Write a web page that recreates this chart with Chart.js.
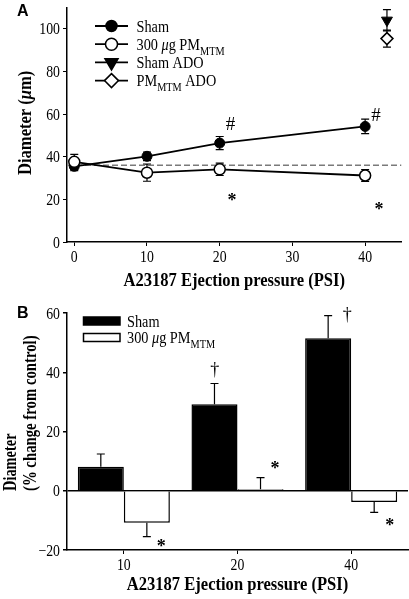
<!DOCTYPE html>
<html>
<head>
<meta charset="utf-8">
<script src="https://cdn.jsdelivr.net/npm/chart.js@4.4.1/dist/chart.umd.min.js"></script>
<style>
  html, body { margin: 0; padding: 0; background: #fff; }
  #chartA { position: absolute; left: 0; top: 0; }
  #chartB { position: absolute; left: 0; top: 296px; }
</style>
</head>
<body>
<canvas id="chartA" width="409" height="296"></canvas>
<canvas id="chartB" width="409" height="303"></canvas>
<script>
// Panel A: diameter vs ejection pressure
const pressures = [0, 10, 20, 40];
const shamDiam = [35.5, 40.2, 46.4, 54.2];
const shamErr = [2, 2, 3.1, 3.4];
const pmDiam = [37.6, 32.5, 34.1, 31.2];
const pmErr = [3.5, 4, 2.9, 2.8];
const adoX = [43];
const shamAdo = [104];
const shamAdoErr = [5];
const pmAdo = [95.4];
const pmAdoErr = [4];
const controlLevel = 36;
const xTicksA = [0, 10, 20, 30, 40];
const yTicksA = [0, 20, 40, 60, 80, 100];

// Panel B: % change from control
const pressureCats = ['10', '20', '40'];
const shamChange = [8.1, 29.2, 51.5];
const shamChangeErr = [4.3, 7, 7.6];
const pmChange = [-10.8, 0.5, -3.8];
const pmChangeErr = [4.7, 3.9, 3.5];
const yTicksB = [-20, 0, 20, 40, 60];

const SERIF = '"Liberation Serif", "Times New Roman", serif';
const SANS = '"Liberation Sans", Arial, sans-serif';

// text is a list of segments: 'n' normal, 'i' italic, 's' subscript
// sx squeezes the text horizontally (the original figure is a bit narrow)
function setFont(ctx, k, size, bold) {
  const fs = k === 's' ? size * 0.72 : size;
  ctx.font = (k === 'i' ? 'italic ' : '') + (bold ? 'bold ' : '') + fs + 'px ' + SERIF;
}
function richWidth(ctx, segs, size, bold, sx) {
  let w = 0;
  segs.forEach(([t, k]) => {
    setFont(ctx, k, size, bold);
    w += ctx.measureText(t).width;
  });
  return w * sx;
}
function richText(ctx, segs, x, y, size, bold, sx, align) {
  const w = richWidth(ctx, segs, size, bold, sx);
  const x0 = align === 'center' ? x - w / 2 : align === 'right' ? x - w : x;
  ctx.save();
  ctx.translate(x0, y);
  ctx.scale(sx, 1);
  ctx.textAlign = 'left';
  ctx.textBaseline = 'alphabetic';
  let cx = 0;
  segs.forEach(([t, k]) => {
    setFont(ctx, k, size, bold);
    ctx.fillText(t, cx, k === 's' ? size * 0.3 : 0);
    cx += ctx.measureText(t).width;
  });
  ctx.restore();
}
function label(v) {
  return String(v).replace('-', '\u2212');
}

function marker(ctx, style, x, y, r, filled) {
  ctx.beginPath();
  if (style === 'circle') {
    ctx.arc(x, y, r, 0, Math.PI * 2);
  } else if (style === 'down') {
    ctx.moveTo(x - r * 0.87, y - r * 0.5);
    ctx.lineTo(x + r * 0.87, y - r * 0.5);
    ctx.lineTo(x, y + r);
    ctx.closePath();
  } else {
    ctx.moveTo(x, y - r);
    ctx.lineTo(x + r, y);
    ctx.lineTo(x, y + r);
    ctx.lineTo(x - r, y);
    ctx.closePath();
  }
  ctx.fillStyle = filled ? '#000' : '#fff';
  ctx.fill();
  ctx.lineWidth = 1.5;
  ctx.strokeStyle = '#000';
  ctx.stroke();
}

function errBar(ctx, x, y1, y2, cap) {
  ctx.beginPath();
  ctx.moveTo(x, y1);
  ctx.lineTo(x, y2);
  ctx.moveTo(x - cap, y2);
  ctx.lineTo(x + cap, y2);
  ctx.stroke();
}

function symbol(ctx, t, x, y) {
  ctx.textAlign = 'center';
  ctx.textBaseline = 'alphabetic';
  if (t === '*') {
    ctx.font = 'bold 18px ' + SERIF;
    ctx.fillText(t, x, y + 10);
  } else if (t === '#') {
    ctx.font = '19px ' + SERIF;
    ctx.fillText(t, x, y + 6.5);
  } else {
    ctx.font = '18px ' + SERIF;
    ctx.fillText(t, x, y + 6);
  }
}

function drawTickLabels(chart, xLabels) {
  const ctx = chart.ctx;
  const xs = chart.scales.x, ys = chart.scales.y;
  const area = chart.chartArea;
  ctx.fillStyle = '#000';
  ys.ticks.forEach(t => {
    richText(ctx, [[label(t.value), 'n']], area.left - 7, ys.getPixelForValue(t.value) + 5.5, 16, false, 0.86, 'right');
  });
  xs.ticks.forEach((t, i) => {
    const px = xLabels ? xs.getPixelForValue(i) : xs.getPixelForValue(t.value);
    const txt = xLabels ? xLabels[i] : label(t.value);
    richText(ctx, [[txt, 'n']], px, area.bottom + 20, 16, false, 0.86, 'center');
  });
}

function axisStyle() {
  return {
    border: { display: true, color: '#000', width: 1.5 },
    grid: { display: true, drawOnChartArea: false, drawTicks: true, tickLength: 4, tickColor: '#000', tickWidth: 1 },
    ticks: { display: false }
  };
}

const xTitle = [['A23187 Ejection pressure (PSI)', 'n']];

// ---------- Panel A ----------
const errA = [shamErr, pmErr, shamAdoErr, pmAdoErr];
const annotA = [
  { x: 21.5, y: 55.5, t: '#' },
  { x: 41.5, y: 60, t: '#' },
  { x: 21.7, y: 21.5, t: '*' },
  { x: 41.9, y: 17.5, t: '*' }
];
const legendA = [
  { segs: [['Sham', 'n']], style: 'circle', filled: true, r: 5.5 },
  { segs: [['300 ', 'n'], ['\u03bc', 'i'], ['g PM', 'n'], ['MTM', 's']], style: 'circle', filled: false, r: 6 },
  { segs: [['Sham ADO', 'n']], style: 'down', filled: true, r: 7.5 },
  { segs: [['PM', 'n'], ['MTM', 's'], [' ADO', 'n']], style: 'diamond', filled: false, r: 7 }
];

const decorA = {
  id: 'decorA',
  beforeDatasetsDraw(chart) {
    const ctx = chart.ctx;
    const xs = chart.scales.x, ys = chart.scales.y;
    ctx.save();
    ctx.strokeStyle = '#000';
    ctx.lineWidth = 1.2;
    [0, 1, 2, 3].forEach(di => {
      chart.data.datasets[di].data.forEach((p, i) => {
        const px = xs.getPixelForValue(p.x);
        const e = errA[di][i];
        errBar(ctx, px, ys.getPixelForValue(p.y), ys.getPixelForValue(p.y + e), 4);
        errBar(ctx, px, ys.getPixelForValue(p.y), ys.getPixelForValue(p.y - e), 4);
      });
    });
    ctx.restore();
  },
  afterDraw(chart) {
    const ctx = chart.ctx;
    const xs = chart.scales.x, ys = chart.scales.y;
    const area = chart.chartArea;
    ctx.save();
    ctx.fillStyle = '#000';
    drawTickLabels(chart, null);
    annotA.forEach(a => symbol(ctx, a.t, xs.getPixelForValue(a.x), ys.getPixelForValue(a.y)));
    // legend
    legendA.forEach((l, i) => {
      const y = 26 + i * 18.2;
      ctx.strokeStyle = '#000';
      ctx.lineWidth = 1.8;
      ctx.beginPath();
      ctx.moveTo(95, y);
      ctx.lineTo(128, y);
      ctx.stroke();
      marker(ctx, l.style, 111.5, y, l.r, l.filled);
      ctx.fillStyle = '#000';
      richText(ctx, l.segs, 136.5, y + 5.5, 17, false, 0.84, 'left');
    });
    // axis titles
    richText(ctx, xTitle, (area.left + area.right) / 2, 286, 18, true, 0.92, 'center');
    ctx.translate(30.5, 175);
    ctx.rotate(-Math.PI / 2);
    richText(ctx, [['Diameter (', 'n'], ['\u03bc', 'i'], ['m)', 'n']], 0, 0, 18, true, 0.92, 'left');
    ctx.setTransform(1, 0, 0, 1, 0, 0);
    ctx.font = 'bold 16px ' + SANS;
    ctx.textAlign = 'left';
    ctx.textBaseline = 'alphabetic';
    ctx.fillText('A', 17, 16);
    ctx.restore();
  }
};

new Chart(document.getElementById('chartA'), {
  type: 'scatter',
  data: {
    datasets: [
      {
        data: pressures.map((p, i) => ({ x: p, y: shamDiam[i] })),
        showLine: true, borderColor: '#000', borderWidth: 1.8,
        pointStyle: 'circle', pointRadius: 5, pointBackgroundColor: '#000',
        pointBorderColor: '#000', pointBorderWidth: 1, order: 2
      },
      {
        data: pressures.map((p, i) => ({ x: p, y: pmDiam[i] })),
        showLine: true, borderColor: '#000', borderWidth: 1.8,
        pointStyle: 'circle', pointRadius: 5.5, pointBackgroundColor: '#fff',
        pointBorderColor: '#000', pointBorderWidth: 1.5, order: 1
      },
      {
        data: adoX.map((p, i) => ({ x: p, y: shamAdo[i] })),
        pointStyle: 'triangle', rotation: 180, pointRadius: 6.3,
        pointBackgroundColor: '#000', pointBorderColor: '#000', pointBorderWidth: 1, order: 1
      },
      {
        data: adoX.map((p, i) => ({ x: p, y: pmAdo[i] })),
        pointStyle: 'rectRot', pointRadius: 6, pointBackgroundColor: '#fff',
        pointBorderColor: '#000', pointBorderWidth: 1.5, order: 1
      },
      {
        data: [{ x: -1, y: controlLevel }, { x: 45, y: controlLevel }],
        showLine: true, borderColor: '#7a7a7a', borderWidth: 1.5, borderDash: [6, 3],
        pointRadius: 0, order: 3
      }
    ]
  },
  options: {
    responsive: false,
    animation: false,
    layout: { padding: { top: 4, right: 2, left: 0, bottom: 0 } },
    plugins: { legend: { display: false }, tooltip: { enabled: false } },
    scales: {
      x: Object.assign(axisStyle(), {
        type: 'linear', min: -1, max: 45,
        afterBuildTicks: s => { s.ticks = xTicksA.map(v => ({ value: v })); },
        afterFit: s => { s.height = 54; }
      }),
      y: Object.assign(axisStyle(), {
        type: 'linear', min: 0, max: 110,
        afterBuildTicks: s => { s.ticks = yTicksA.map(v => ({ value: v })); },
        afterFit: s => { s.width = 67; }
      })
    }
  },
  plugins: [decorA]
});

// ---------- Panel B ----------
const annotB = [
  { i: 1, dx: -0.2, y: 41, t: '\u2020' },
  { i: 2, dx: -0.035, y: 59.5, t: '\u2020' },
  { i: 0, dx: 0.33, y: -17.4, t: '*' },
  { i: 1, dx: 0.33, y: 8.9, t: '*' },
  { i: 2, dx: 0.34, y: -10.1, t: '*' }
];
const errB = [shamChangeErr, pmChangeErr];

const decorB = {
  id: 'decorB',
  afterDatasetsDraw(chart) {
    const ctx = chart.ctx;
    const ys = chart.scales.y;
    ctx.save();
    ctx.strokeStyle = '#000';
    ctx.lineWidth = 1.2;
    [0, 1].forEach(di => {
      const meta = chart.getDatasetMeta(di);
      chart.data.datasets[di].data.forEach((v, i) => {
        const e = v >= 0 ? errB[di][i] : -errB[di][i];
        errBar(ctx, meta.data[i].x, ys.getPixelForValue(v), ys.getPixelForValue(v + e), 4);
      });
    });
    ctx.restore();
  },
  afterDraw(chart) {
    const ctx = chart.ctx;
    const xs = chart.scales.x, ys = chart.scales.y;
    const area = chart.chartArea;
    const catW = (area.right - area.left) / pressureCats.length;
    ctx.save();
    ctx.fillStyle = '#000';
    drawTickLabels(chart, pressureCats);
    annotB.forEach(a => symbol(ctx, a.t, xs.getPixelForValue(a.i) + a.dx * catW, ys.getPixelForValue(a.y)));
    // legend
    const rows = [
      { segs: [['Sham', 'n']], fill: '#000' },
      { segs: [['300 ', 'n'], ['\u03bc', 'i'], ['g PM', 'n'], ['MTM', 's']], fill: '#fff' }
    ];
    rows.forEach((r, i) => {
      const y = 25 + i * 16.5;
      ctx.fillStyle = r.fill;
      ctx.fillRect(83.5, y - 4, 36.5, 8);
      ctx.strokeStyle = '#000';
      ctx.lineWidth = 1.5;
      ctx.strokeRect(83.5, y - 4, 36.5, 8);
      ctx.fillStyle = '#000';
      richText(ctx, r.segs, 127, y + 5.5, 17, false, 0.84, 'left');
    });
    // axis titles
    richText(ctx, xTitle, (area.left + area.right) / 2, 294, 18, true, 0.92, 'center');
    ctx.translate(15.5, 195);
    ctx.rotate(-Math.PI / 2);
    richText(ctx, [['Diameter', 'n']], 0, 0, 18, true, 0.8, 'left');
    ctx.setTransform(1, 0, 0, 1, 0, 0);
    ctx.translate(35.5, 195);
    ctx.rotate(-Math.PI / 2);
    richText(ctx, [['(% change from control)', 'n']], 0, 0, 18, true, 0.82, 'left');
    ctx.setTransform(1, 0, 0, 1, 0, 0);
    ctx.font = 'bold 16px ' + SANS;
    ctx.textAlign = 'left';
    ctx.textBaseline = 'alphabetic';
    ctx.fillText('B', 17, 22);
    ctx.restore();
  }
};

new Chart(document.getElementById('chartB'), {
  type: 'bar',
  data: {
    labels: pressureCats,
    datasets: [
      { data: shamChange, backgroundColor: '#000', borderColor: '#000', borderWidth: 1.5 },
      { data: pmChange, backgroundColor: '#fff', borderColor: '#000', borderWidth: 1.5 }
    ]
  },
  options: {
    responsive: false,
    animation: false,
    categoryPercentage: 0.81,
    barPercentage: 1,
    layout: { padding: { top: 17, right: 1, left: 0, bottom: 0 } },
    plugins: { legend: { display: false }, tooltip: { enabled: false } },
    scales: {
      x: Object.assign(axisStyle(), {
        grid: { display: true, offset: false, drawOnChartArea: false, tickLength: 4, tickColor: '#000' },
        afterFit: s => { s.height = 49; }
      }),
      y: Object.assign(axisStyle(), {
        min: -20, max: 60,
        grid: {
          display: true, drawOnChartArea: true, tickLength: 4, tickColor: '#000', lineWidth: 1.5,
          color: c => (c.tick && c.tick.value === 0 ? '#000' : 'rgba(0,0,0,0)')
        },
        afterBuildTicks: s => { s.ticks = yTicksB.map(v => ({ value: v })); },
        afterFit: s => { s.width = 67; }
      })
    }
  },
  plugins: [decorB]
});
</script>
</body>
</html>
